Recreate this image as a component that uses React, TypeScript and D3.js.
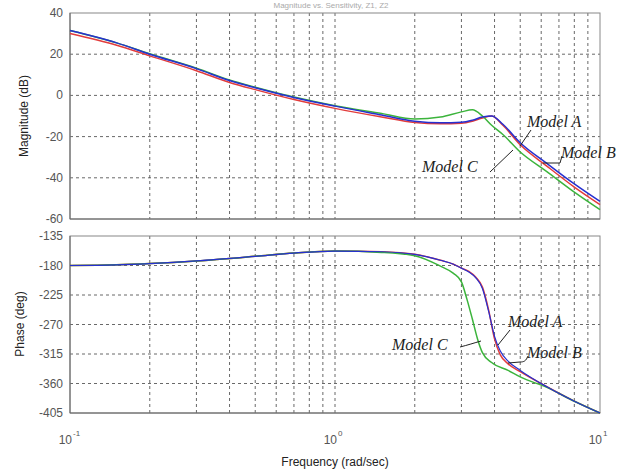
import React from "react";
import * as d3 from "d3";

const freqMag = [0.1, 0.15, 0.2, 0.3, 0.4, 0.5, 0.7, 1.0, 1.5, 2.0, 2.5, 3.0, 3.3, 3.6, 3.9, 4.3, 5.0, 6.3, 8.0, 10];
const magA = [31.5, 25.5, 20, 13, 7.2, 3.7, -1, -5.2, -9.5, -12.5, -13.3, -13, -12, -10.5, -10, -14, -23, -33, -43, -51.5];
const magB = [30, 24.3, 19.2, 12, 6.3, 2.8, -2, -6.3, -10.5, -13.2, -13.8, -13.5, -12.5, -11, -10, -14.5, -24, -34.3, -44.5, -53];
const magC = [31.5, 25.5, 20.2, 13.2, 7.5, 4, -0.8, -5, -8.8, -11.5, -10.5, -8, -7, -10, -14.5, -19, -27.5, -37, -47, -55.5];

const freqPhAB = [0.1, 0.15, 0.2, 0.3, 0.5, 0.7, 1.0, 1.5, 2.0, 2.5, 2.8, 3.0, 3.2, 3.4, 3.6, 3.8, 4.0, 4.2, 4.5, 5.0, 6.3, 8.0, 10];
const phA = [-180, -179, -177, -173, -166, -161, -158, -159, -163, -172, -178, -184, -190, -199, -215, -250, -288, -310, -326, -340, -365, -387, -405];
const phB = [-180, -179, -177, -173, -166, -161, -158, -159, -163, -172, -178, -184, -189, -198, -213, -248, -292, -316, -330, -342, -365, -387, -405];
const freqPhC = [0.1, 0.15, 0.2, 0.3, 0.5, 0.7, 1.0, 1.5, 2.0, 2.5, 2.8, 3.0, 3.15, 3.3, 3.45, 3.6, 3.9, 4.5, 5.0, 6.3, 8.0, 10];
const phC = [-180, -179, -177, -173, -166, -161, -158, -160, -165, -181, -192, -205, -232, -262, -292, -313, -328, -340, -350, -366, -387, -405];

const magTicks = [40, 20, 0, -20, -40, -60];
const phaseTicks = [-135, -180, -225, -270, -315, -360, -405];
const decadeTicks = [0.1, 1, 10];
const decadeExp = ["-1", "0", "1"];

const colorA = "#2630d0";
const colorB = "#e23c3c";
const colorC = "#3cb43c";

export default function App() {
  const W = 644, H = 474;
  const L = 70, R = 600;
  const magTop = 13, magBot = 219;
  const phTop = 236, phBot = 413;

  const x = d3.scaleLog().domain([0.1, 10]).range([L, R]);
  const yM = d3.scaleLinear().domain([-60, 40]).range([magBot, magTop]);
  const yP = d3.scaleLinear().domain([-405, -135]).range([phBot, phTop]);

  const gridX: number[] = [];
  [0.1, 1].forEach((d) => {
    for (let k = 1; k <= 9; k++) {
      const v = d * k;
      if (v > 0.1 && v < 10) gridX.push(v);
    }
  });

  const lineM = (ys: number[]) =>
    d3.line<number>().x((_, i) => x(freqMag[i])).y((v) => yM(v)).curve(d3.curveMonotoneX)(ys) || "";
  const linePh = (fs: number[], ys: number[]) =>
    d3.line<number>().x((_, i) => x(fs[i])).y((v) => yP(v)).curve(d3.curveMonotoneX)(ys) || "";

  const gridStyle = { stroke: "#444", strokeWidth: 1, strokeDasharray: "3,3", opacity: 0.8 } as const;
  const tickFont = { fontFamily: "Arial, Liberation Sans, sans-serif", fontSize: 12, fill: "#555" } as const;
  const annFont = { fontFamily: "Liberation Serif, Times New Roman, serif", fontStyle: "italic", fontSize: 16, fill: "#222" } as const;

  const panel = (top: number, bot: number, yTicks: number[], yS: (v: number) => number) => (
    <g>
      {gridX.map((g) => (
        <line key={"gx" + g} x1={x(g)} x2={x(g)} y1={top} y2={bot} {...gridStyle} />
      ))}
      {yTicks.slice(1, -1).map((t) => (
        <line key={"gy" + t} x1={L} x2={R} y1={yS(t)} y2={yS(t)} {...gridStyle} />
      ))}
      <rect x={L} y={top} width={R - L} height={bot - top} fill="none" stroke="#888" strokeWidth={1} />
      <line x1={L} x2={L} y1={top} y2={bot} stroke="#666" />
      <line x1={L} x2={R} y1={bot} y2={bot} stroke="#666" />
      {yTicks.map((t) => (
        <text key={"yl" + t} x={63} y={yS(t) + 4} textAnchor="end" {...tickFont}>
          {t}
        </text>
      ))}
    </g>
  );

  return (
    <svg width={W} height={H} style={{ position: "absolute", left: 0, top: 0, background: "#fff" }}>
      <rect x={0} y={0} width={W} height={H} fill="#fff" />
      <text x={331} y={8} textAnchor="middle" fontFamily="Arial, sans-serif" fontSize={8} fill="#aaa">
        Magnitude vs. Sensitivity, Z1, Z2
      </text>

      {panel(magTop, magBot, magTicks, yM)}
      {panel(phTop, phBot, phaseTicks, yP)}

      <g fill="none" strokeWidth={1.5} strokeLinejoin="round">
        <path d={lineM(magB)} stroke={colorB} />
        <path d={lineM(magC)} stroke={colorC} />
        <path d={lineM(magA)} stroke={colorA} />
        <path d={linePh(freqPhAB, phB)} stroke={colorB} />
        <path d={linePh(freqPhC, phC)} stroke={colorC} />
        <path d={linePh(freqPhAB, phA)} stroke={colorA} strokeWidth={1.2} />
      </g>

      <g stroke="#222" strokeWidth={1} fill="none">
        <path d="M531,130 L520,146" />
        <path d="M543,163 L560,163 L562,156" />
        <path d="M490,172 L513,150" />
        <path d="M510,330 L498,345" />
        <path d="M460,347 C468,345 474,343 481,341" />
        <path d="M528,356 C526,361 524,362 520,362 L508,363" />
      </g>
      <text x={527} y={127} {...annFont}>Model A</text>
      <text x={561} y={158} {...annFont}>Model B</text>
      <text x={422} y={172} {...annFont}>Model C</text>
      <text x={508} y={327} {...annFont}>Model A</text>
      <text x={527} y={358} {...annFont}>Model B</text>
      <text x={392} y={350} {...annFont}>Model C</text>

      {decadeTicks.map((d, i) => (
        <g key={"xt" + d}>
          <text x={x(d) + 2} y={444} textAnchor="end" {...tickFont}>10</text>
          <text x={x(d) + 3} y={436} {...tickFont} fontSize={8}>{decadeExp[i]}</text>
        </g>
      ))}

      <text x={335} y={466} textAnchor="middle" fontFamily="Arial, sans-serif" fontSize={12} fill="#222">
        Frequency  (rad/sec)
      </text>
      <text transform="translate(28,116) rotate(-90)" textAnchor="middle" fontFamily="Arial, sans-serif" fontSize={12} fill="#222">
        Magnitude (dB)
      </text>
      <text transform="translate(24,324) rotate(-90)" textAnchor="middle" fontFamily="Arial, sans-serif" fontSize={12} fill="#222">
        Phase (deg)
      </text>
    </svg>
  );
}
